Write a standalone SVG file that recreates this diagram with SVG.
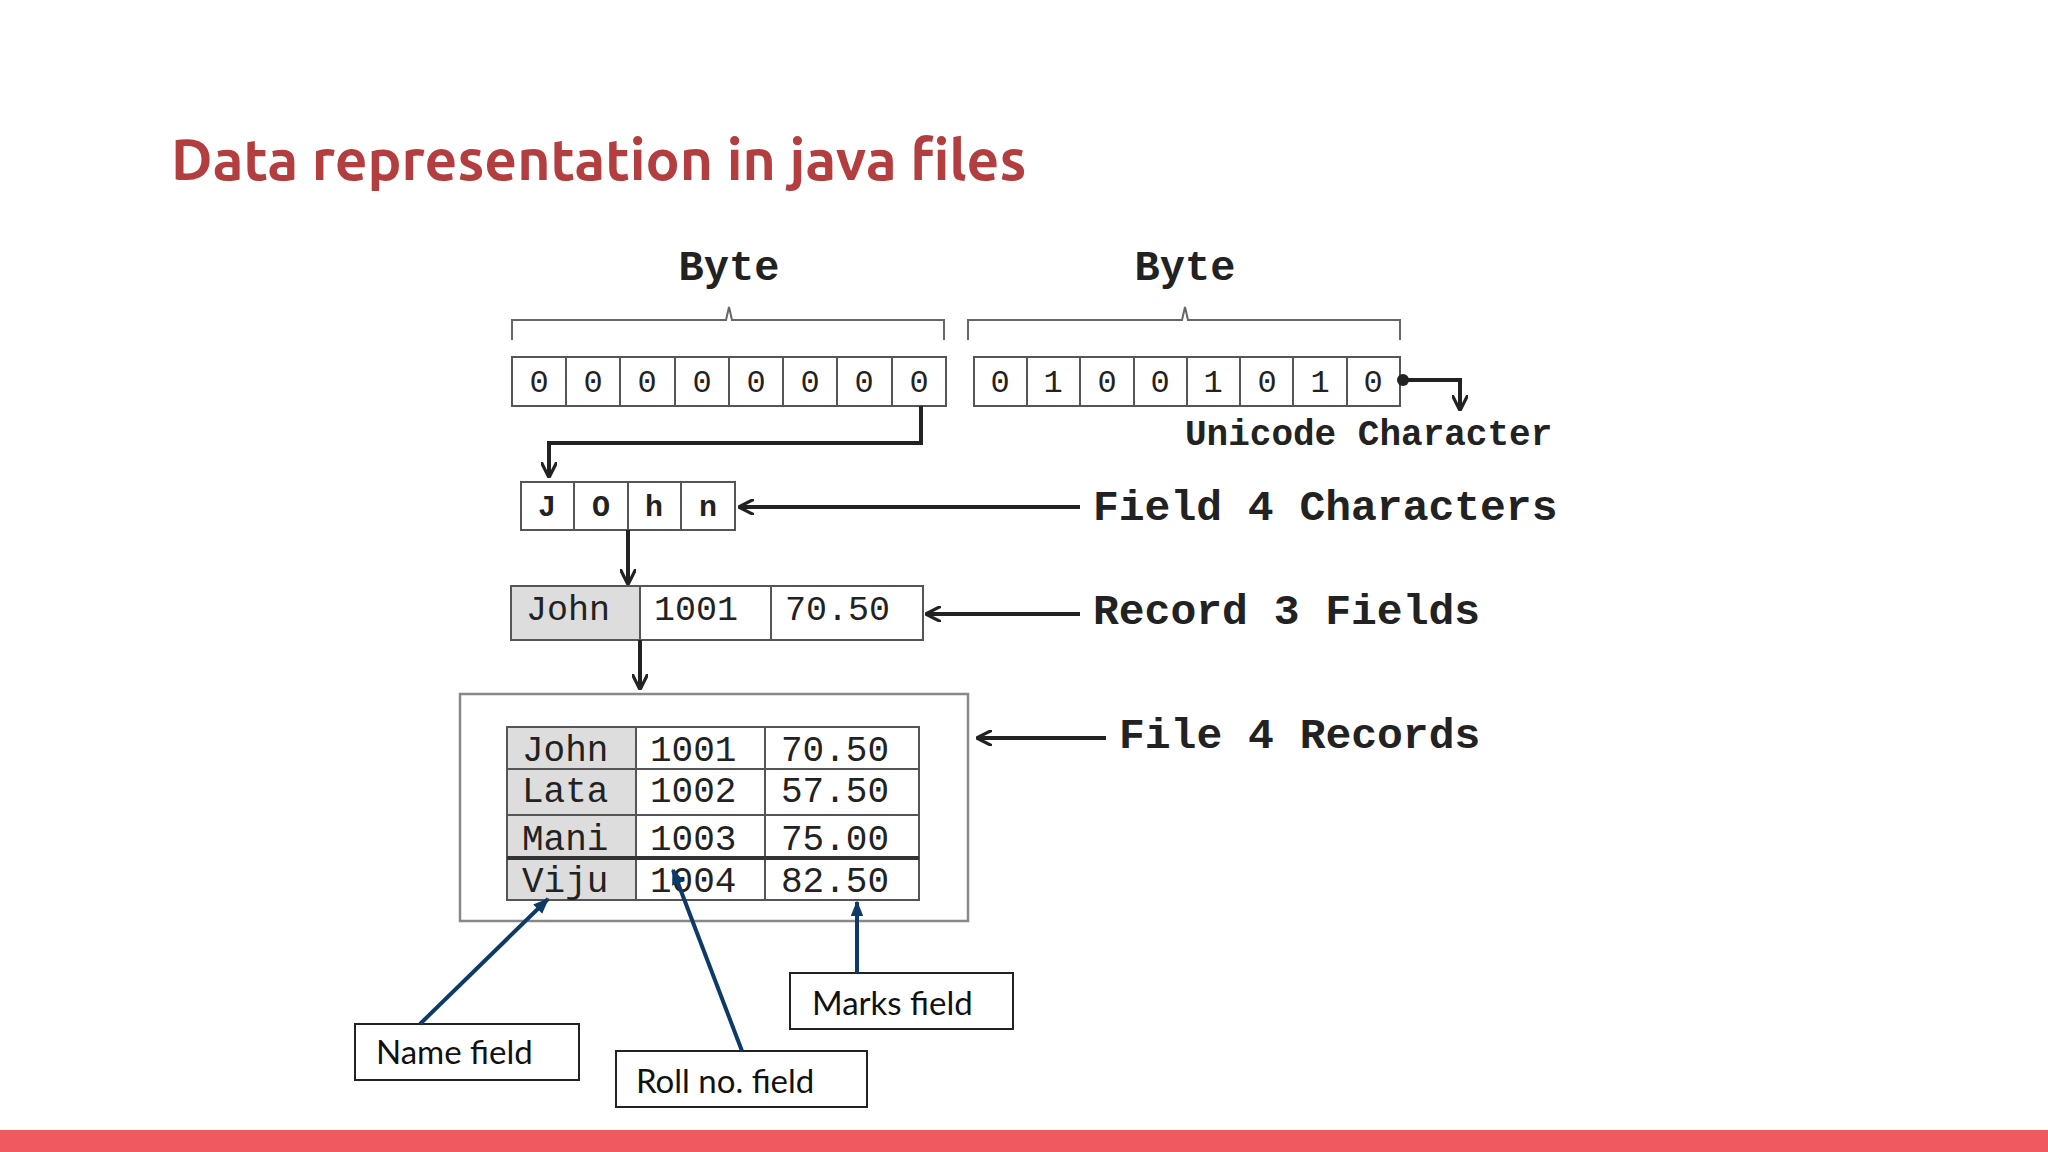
<svg xmlns="http://www.w3.org/2000/svg" width="2048" height="1152" viewBox="0 0 2048 1152">
<style>
.m{font-family:"Liberation Mono","DejaVu Sans Mono",monospace;fill:#222}
.b{font-weight:bold}
.c{fill:#fff;stroke:#555;stroke-width:2}
.g{fill:#ddd;stroke:#555;stroke-width:2}
.k{fill:none;stroke:#222;stroke-width:4}
.n{fill:none;stroke:#0d3a66;stroke-width:4}
.lb{fill:#fff;stroke:#222;stroke-width:2}
.l{font-family:Lato,"Noto Sans",sans-serif;font-size:33px;fill:#111}
</style>
<defs>
<marker id="ak" viewBox="0 0 10 10" refX="9" refY="5" markerWidth="4" markerHeight="4" orient="auto"><path d="M0,0 L10,5 L0,10" fill="none" stroke="#222" stroke-width="2"/></marker>
<marker id="an" viewBox="0 0 10 10" refX="9" refY="5" markerWidth="4" markerHeight="4" orient="auto"><path d="M0,1 L10,5 L0,9 z" fill="#0d3a66"/></marker>
</defs>
<rect width="2048" height="1152" fill="#fff"/>
<text x="171" y="180" font-family="Ubuntu,'Open Sans',sans-serif" font-weight="bold" font-size="57" fill="#b33e3f">Data representation in java files</text>
<rect x="0" y="1130" width="2048" height="22" fill="#f05a5f"/>

<g id="bytes">
<path d="M512,340 V320 H726 L729,307 L732,320 H944 V340" fill="none" stroke="#666" stroke-width="2"/>
<path d="M968,340 V320 H1182 L1185,307 L1188,320 H1400 V340" fill="none" stroke="#666" stroke-width="2"/>
<text class="m b" x="729" y="280" font-size="42" text-anchor="middle">Byte</text>
<text class="m b" x="1185" y="280" font-size="42" text-anchor="middle">Byte</text>
<g>
<rect class="c" x="512" y="357" width="434" height="49"/>
<path d="M566,357V406M620,357V406M675,357V406M729,357V406M783,357V406M837,357V406M892,357V406" stroke="#555" stroke-width="2"/>
<rect class="c" x="974" y="357" width="426" height="49"/>
<path d="M1027,357V406M1080,357V406M1134,357V406M1187,357V406M1240,357V406M1293,357V406M1347,357V406" stroke="#555" stroke-width="2"/>
<g class="m" font-size="32" text-anchor="middle">
<text x="539" y="392">0</text><text x="593" y="392">0</text><text x="647" y="392">0</text><text x="702" y="392">0</text><text x="756" y="392">0</text><text x="810" y="392">0</text><text x="864" y="392">0</text><text x="919" y="392">0</text>
<text x="1000" y="392">0</text><text x="1053" y="392">1</text><text x="1107" y="392">0</text><text x="1160" y="392">0</text><text x="1213" y="392">1</text><text x="1267" y="392">0</text><text x="1320" y="392">1</text><text x="1373" y="392">0</text>
</g>
</g>
<text class="m b" x="1185" y="445" font-size="36">Unicode Character</text>
</g>

<g id="field">
<rect class="c" x="521" y="482" width="214" height="48"/>
<path d="M574,482V530M628,482V530M681,482V530" stroke="#555" stroke-width="2"/>
<g class="m b" font-size="30" text-anchor="middle"><text x="547" y="516">J</text><text x="601" y="516">O</text><text x="654" y="516">h</text><text x="708" y="516">n</text></g>
<text class="m b" x="1093" y="520" font-size="43">Field 4 Characters</text>
</g>

<g id="record">
<rect class="g" x="511" y="586" width="129" height="54"/>
<rect class="c" x="640" y="586" width="131" height="54"/>
<rect class="c" x="771" y="586" width="152" height="54"/>
<g class="m" font-size="35"><text x="526" y="620">John</text><text x="654" y="620">1001</text><text x="785" y="620">70.50</text></g>
<text class="m b" x="1093" y="624" font-size="43">Record 3 Fields</text>
</g>

<g id="file">
<rect x="460" y="694" width="508" height="227" fill="#fff" stroke="#888" stroke-width="2.5"/>
<rect class="g" x="507" y="727" width="129" height="173"/>
<rect class="c" x="636" y="727" width="283" height="173"/>
<path d="M765,727V900M507,769H919M507,815H919" stroke="#555" stroke-width="2"/>
<path d="M507,858H919" stroke="#333" stroke-width="4"/>
<g class="m" font-size="36">
<text x="522" y="761">John</text><text x="650" y="761">1001</text><text x="781" y="761">70.50</text>
<text x="522" y="802">Lata</text><text x="650" y="802">1002</text><text x="781" y="802">57.50</text>
<text x="522" y="850">Mani</text><text x="650" y="850">1003</text><text x="781" y="850">75.00</text>
<text x="522" y="892">Viju</text><text x="650" y="892">1004</text><text x="781" y="892">82.50</text>
</g>
<text class="m b" x="1119" y="748" font-size="43">File 4 Records</text>
</g>

<g id="name-label"><rect class="lb" x="355" y="1024" width="224" height="56"/><text class="l" x="376" y="1064">Name field</text></g>
<g id="roll-label"><rect class="lb" x="616" y="1051" width="251" height="56"/><text class="l" x="636" y="1093">Roll no. field</text></g>
<g id="marks-label"><rect class="lb" x="790" y="973" width="223" height="56"/><text class="l" x="812" y="1015">Marks field</text></g>

<g id="connectors">
<circle cx="1403" cy="380" r="6" fill="#222"/>
<path class="k" d="M1403,380 H1460 V409" marker-end="url(#ak)"/>
<path class="k" d="M921,406 V443 H549 V476" marker-end="url(#ak)"/>
<path class="k" d="M1080,507 H740" marker-end="url(#ak)"/>
<path class="k" d="M628,530 V583" marker-end="url(#ak)"/>
<path class="k" d="M1080,614 H927" marker-end="url(#ak)"/>
<path class="k" d="M640,640 V688" marker-end="url(#ak)"/>
<path class="k" d="M1106,738 H978" marker-end="url(#ak)" stroke-width="3"/>
<path class="n" d="M420,1024 L548,899" marker-end="url(#an)"/>
<path class="n" d="M742,1051 L673,870" marker-end="url(#an)"/>
<path class="n" d="M857,973 V902" marker-end="url(#an)"/>
</g>
</svg>
